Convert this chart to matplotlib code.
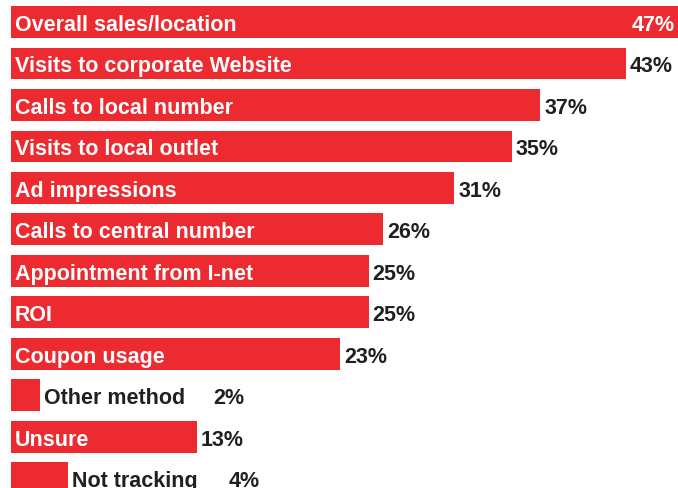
import matplotlib
matplotlib.use("Agg")
import matplotlib.pyplot as plt

# Share of respondents using each tracking method
methods = [
    "Overall sales/location",
    "Visits to corporate Website",
    "Calls to local number",
    "Visits to local outlet",
    "Ad impressions",
    "Calls to central number",
    "Appointment from I-net",
    "ROI",
    "Coupon usage",
    "Other method",
    "Unsure",
    "Not tracking",
]
shares = [47, 43, 37, 35, 31, 26, 25, 25, 23, 2, 13, 4]

RED = "#ec2a2f"
DARK = "#231f20"
FONT = ["Liberation Sans", "DejaVu Sans"]
FS = 15.5

fig = plt.figure(figsize=(6.78, 4.89), dpi=100)
ax = fig.add_axes([11 / 678, 0, 1 - 11 / 678, 1])

ypos = list(range(len(methods)))
ax.barh(ypos, shares, height=0.77, color=RED, linewidth=0)

ax.set_xlim(0, 667 / 14.3)
ax.set_ylim(11.23, -0.554)
ax.axis("off")

# short bars carry their label outside, value pushed further right
outside_value_gap = {"Other method": 174, "Not tracking": 160}


def put(text, xy, dx, color, ha="left", xycoords="data"):
    ax.annotate(text, xy, xycoords=xycoords, xytext=(dx, 0),
                textcoords="offset pixels", ha=ha, va="center_baseline",
                fontsize=FS, fontweight="bold", color=color, family=FONT)


for y, name, v in zip(ypos, methods, shares):
    if name in outside_value_gap:
        put(name, (v, y), 4, DARK)
        put(f"{v}%", (v, y), outside_value_gap[name], DARK)
        continue
    put(name, (0, y), 4, "white")
    if v >= 46:
        put(f"{v}%", (1, y), -3, "white", ha="right",
            xycoords=("axes fraction", "data"))
    else:
        put(f"{v}%", (v, y), 4, DARK)

fig.savefig("out.png", dpi=100)
